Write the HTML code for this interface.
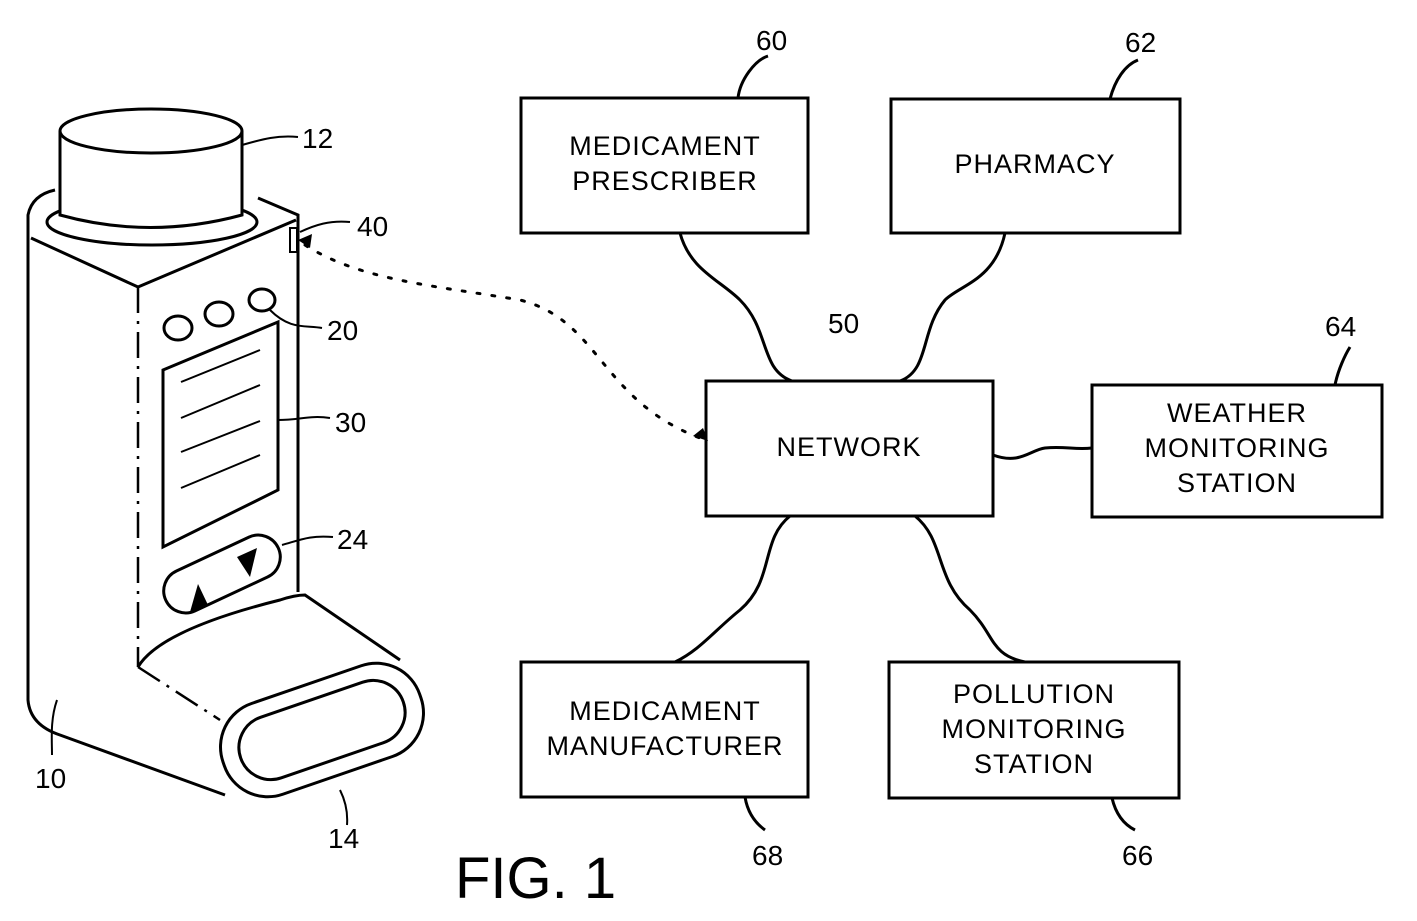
<!DOCTYPE html>
<html><head><meta charset="utf-8"><style>
html,body{margin:0;padding:0;background:#fff;}
svg{display:block;}
text{font-family:"Liberation Sans",Arial,sans-serif;fill:#000;}
.l{font-size:27px;text-anchor:middle;letter-spacing:1px;}
.n{font-size:28px;}
</style></head><body>
<svg width="1417" height="921" viewBox="0 0 1417 921" xmlns="http://www.w3.org/2000/svg">
<g fill="none" stroke="#000" stroke-width="3">
<rect x="521" y="98" width="287" height="135"/>
<rect x="891" y="99" width="289" height="134"/>
<rect x="706" y="381" width="287" height="135"/>
<rect x="1092" y="385" width="290" height="132"/>
<rect x="521" y="662" width="287" height="135"/>
<rect x="889" y="662" width="290" height="136"/>
<path d="M680 233 C690 270,720 280,740 300 C770 330,760 370,792 381"/>
<path d="M1005 233 C995 280,960 285,945 300 C920 330,930 370,900 381"/>
<path d="M790 516 C760 540,775 580,740 610 C715 630,700 650,675 662"/>
<path d="M915 516 C945 540,935 580,970 610 C995 635,990 655,1025 662"/>
<path d="M993 455 C1020 465,1030 450,1045 448 C1065 446,1075 450,1092 448"/>
<path d="M738 98 C740 80,755 60,768 56"/>
<path d="M1110 99 C1115 80,1125 65,1138 60"/>
<path d="M1335 385 C1338 370,1345 355,1350 347"/>
<path d="M745 797 C748 815,758 825,765 830"/>
<path d="M1112 798 C1116 815,1125 825,1135 830"/>
<path d="M28 238 L28 700 Q30 725 60 735 L225 795"/>
<path d="M28 238 L28 215 Q32 195 55 190"/>
<path d="M258 198 L298 215 L298 592"/>
<path d="M31 238 L138 287 L296 220"/>
<path d="M138 287 L138 667 M138 667 L220 720" stroke-dasharray="26 8 3 8" stroke-width="2.5"/>
<ellipse cx="152" cy="222" rx="105" ry="23"/>
<path d="M60 131 L60 215 Q150 240 242 215 L242 131" fill="#fff"/>
<ellipse cx="151" cy="131" rx="91" ry="22" fill="#fff"/>
<ellipse cx="178" cy="328" rx="14" ry="12"/>
<ellipse cx="219" cy="314" rx="14" ry="12"/>
<ellipse cx="262" cy="300" rx="13" ry="11"/>
<path d="M163 370 L278 322 L278 490 L163 547 Z"/>
<path d="M181 382 L260 350 M181 418 L260 385 M181 452 L260 421 M181 488 L260 455" stroke-width="2"/>
<g transform="rotate(-25 222 574)"><rect x="160" y="552" width="124" height="44" rx="22"/></g>
<path d="M138 667 Q160 630 280 600 Q295 595 305 595 L400 660"/>
<g transform="rotate(-19 322 730)"><rect x="218" y="682" width="208" height="96" rx="46"/><rect x="236" y="698" width="172" height="64" rx="32"/></g>
<path d="M242 145 C260 140,275 135,298 137 M300 232 C315 225,330 220,350 222 M270 310 C290 330,305 325,322 328 M278 420 C300 420,310 415,330 418 M282 545 C300 540,310 535,333 537 M57 700 C50 720,52 740,52 755 M340 790 C345 800,348 812,347 825" stroke-width="2"/>
<rect x="290" y="228" width="7" height="24" stroke-width="2"/>
<path d="M305 245 C360 280,430 285,520 300 C600 320,600 400,700 438" stroke-dasharray="3 12" stroke-width="3" stroke-linecap="round"/>
</g>
<polygon points="190,612 198,584 208,605" fill="#000"/>
<polygon points="237,557 257,548 250,577" fill="#000"/>
<polygon points="298,240 312,234 310,248" fill="#000"/>
<polygon points="708,441 693,436 703,428" fill="#000"/>
<text class="l" x="665" y="155">MEDICAMENT</text>
<text class="l" x="665" y="190">PRESCRIBER</text>
<text class="l" x="1035" y="173">PHARMACY</text>
<text class="l" x="849" y="456">NETWORK</text>
<text class="l" x="1237" y="422">WEATHER</text>
<text class="l" x="1237" y="457">MONITORING</text>
<text class="l" x="1237" y="492">STATION</text>
<text class="l" x="665" y="720">MEDICAMENT</text>
<text class="l" x="665" y="755">MANUFACTURER</text>
<text class="l" x="1034" y="703">POLLUTION</text>
<text class="l" x="1034" y="738">MONITORING</text>
<text class="l" x="1034" y="773">STATION</text>
<text class="n" x="756" y="50">60</text>
<text class="n" x="1125" y="52">62</text>
<text class="n" x="828" y="333">50</text>
<text class="n" x="1325" y="336">64</text>
<text class="n" x="752" y="865">68</text>
<text class="n" x="1122" y="865">66</text>
<text class="n" x="302" y="148">12</text>
<text class="n" x="357" y="236">40</text>
<text class="n" x="327" y="340">20</text>
<text class="n" x="335" y="432">30</text>
<text class="n" x="337" y="549">24</text>
<text class="n" x="35" y="788">10</text>
<text class="n" x="328" y="848">14</text>
<text x="455" y="898" style="font-size:58px">FIG. 1</text>
</svg>
</body></html>
